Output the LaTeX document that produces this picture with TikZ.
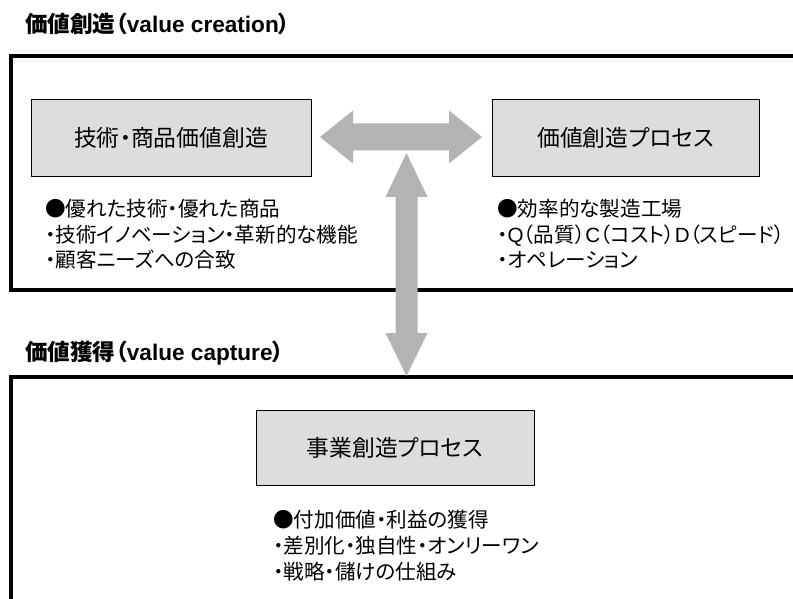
\documentclass[tikz,border=0pt]{standalone}
\usepackage{fontspec}
\newfontfamily\jp[RawFeature=+palt]{Noto Sans CJK JP}
\newfontfamily\lat{Liberation Sans}
\definecolor{arrowgray}{HTML}{B3B3B3}
\definecolor{boxgray}{HTML}{DDDDDD}
\tikzset{
  outer/.style={line width=4pt, draw=black},
  procbox/.style={draw=black, line width=0.9pt, fill=boxgray, inner sep=0pt,
    font=\jp\fontsize{22.8}{26}\selectfont},
  bulletline/.style={anchor=base west, inner sep=0pt, font=\jp\fontsize{20.6}{25}\selectfont},
  heading/.style={anchor=base west, inner sep=0pt, font=\fontsize{22.6}{26}\selectfont\bfseries},
  bigarrow/.style={fill=arrowgray, draw=none}
}
\begin{document}
\begin{tikzpicture}[x=1pt,y=-1pt]
\clip (0,0) rectangle (793,599);
\fill[white] (0,0) rectangle (793,599);

% headings
\node[heading] (h1) at (25,32.6) {{\jp 価値創造（}{\lat value creation}{\jp ）}};
\node[heading] (h2) at (25,360) {{\jp 価値獲得（}{\lat value capture}{\jp ）}};

% outer frames (open to the right)
\draw[outer] (830,56) -- (11,56) -- (11,290) -- (830,290);
\draw[outer] (830,377) -- (11,377) -- (11,640);

% process boxes
\node[procbox, minimum width=280pt, minimum height=77pt] (tech) at (171,137.5) {技術・商品価値創造};
\node[procbox, minimum width=267pt, minimum height=77pt] (proc) at (625.5,137.5) {価値創造プロセス};
\node[procbox, minimum width=278pt, minimum height=75pt] (biz) at (395,447.5) {事業創造プロセス};

% bullets left
\node[bulletline] (l1) at (45,216.8) {●優れた技術・優れた商品};
\node[bulletline] (l2) at (45,242.2) {・技術イノベーション・革新的な機能};
\node[bulletline] (l3) at (45,267.8) {・顧客ニーズへの合致};
% bullets right
\node[bulletline] (r1) at (497,216.8) {●効率的な製造工場};
\node[bulletline] (r2) at (497,242.2) {・{\lat Q}（品質）{\lat C}（コスト）{\lat D}（スピード）};
\node[bulletline] (r3) at (497,267.8) {・オペレーション};
% bullets bottom
\node[bulletline] (b1) at (273,527.8) {●付加価値・利益の獲得};
\node[bulletline] (b2) at (273,553.8) {・差別化・独自性・オンリーワン};
\node[bulletline] (b3) at (273,579.8) {・戦略・儲けの仕組み};

% horizontal double arrow between the boxes
\coordinate (hL) at (320,137);
\coordinate (hR) at (482,137);
\fill[bigarrow] (hL) -- ++(33,-26.5) -- ++(0,13) -- ++(96,0) -- ++(0,-13) -- (hR)
  -- ++(-33,26.5) -- ++(0,-13) -- ++(-96,0) -- ++(0,13) -- cycle;

% vertical double arrow
\coordinate (vT) at (406.5,153);
\coordinate (vB) at (406.5,376);
\fill[bigarrow] (vT) -- ++(21,44) -- ++(-10,0) -- ++(0,136) -- ++(10,0) -- (vB)
  -- ++(-21,-43) -- ++(10,0) -- ++(0,-136) -- ++(-10,0) -- cycle;
\end{tikzpicture}
\end{document}
